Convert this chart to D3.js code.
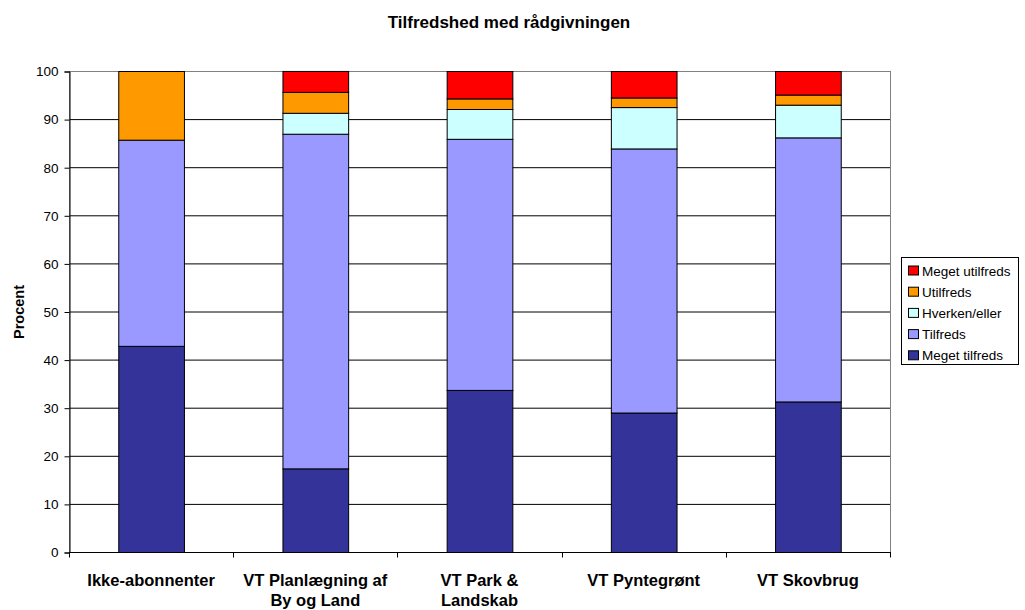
<!DOCTYPE html>
<html>
<head>
<meta charset="utf-8">
<script src="https://cdn.jsdelivr.net/npm/d3@7/dist/d3.min.js"></script>
<style>
  html, body { margin: 0; padding: 0; background: #fff; }
  svg { display: block; font-family: "Liberation Sans", Arial, sans-serif; }
</style>
</head>
<body>
<svg id="chart" width="1025" height="610"></svg>
<script>
// Satisfaction with advisory service, percentage per group
const categories = [
  ["Ikke-abonnenter"],
  ["VT Planlægning af", "By og Land"],
  ["VT Park &", "Landskab"],
  ["VT Pyntegrønt"],
  ["VT Skovbrug"]
];
const seriesNames = ["Meget tilfreds", "Tilfreds", "Hverken/eller", "Utilfreds", "Meget utilfreds"];
const seriesColors = ["#333399", "#9999FF", "#CCFFFF", "#FF9900", "#FF0000"];

const megetTilfreds  = [42.86, 17.39, 33.7, 29.0, 31.3];
const tilfreds       = [42.86, 69.57, 52.2, 54.9, 54.9];
const hverkenEller   = [0,      4.35,  6.2,  8.6,  6.8];
const utilfreds      = [14.28,  4.35,  2.2,  2.0,  2.1];
const megetUtilfreds = [0,      4.35,  5.7,  5.5,  4.9];

const yTicks = [0, 10, 20, 30, 40, 50, 60, 70, 80, 90, 100];

const seriesValues = [megetTilfreds, tilfreds, hverkenEller, utilfreds, megetUtilfreds];
const keys = categories.map((c, i) => i);
const rows = keys.map(i => {
  const r = { idx: i };
  seriesNames.forEach((s, k) => r[s] = seriesValues[k][i]);
  return r;
});

const svg = d3.select("#chart");
const plot = { left: 69, right: 890, top: 71, bottom: 552 };

const x = d3.scaleBand().domain(keys).range([plot.left, plot.right])
  .paddingInner(0.6).paddingOuter(0.3);
const xCat = d3.scaleBand().domain(keys).range([plot.left, plot.right]);
const y = d3.scaleLinear().domain([0, 100]).range([plot.bottom, plot.top]);

// Title
svg.append("text")
  .attr("x", 509).attr("y", 27.5)
  .attr("text-anchor", "middle")
  .attr("font-size", 17).attr("font-weight", "bold")
  .text("Tilfredshed med rådgivningen");

// Gridlines
svg.append("g").selectAll("line")
  .data(yTicks.filter(t => t > 0))
  .join("line")
  .attr("x1", plot.left).attr("x2", plot.right)
  .attr("y1", d => y(d) + 0.5).attr("y2", d => y(d) + 0.5)
  .attr("stroke", "#000").attr("stroke-width", 1);

// Plot area border (top/right)
svg.append("rect")
  .attr("x", plot.left + 0.5).attr("y", plot.top + 0.5)
  .attr("width", plot.right - plot.left).attr("height", plot.bottom - plot.top)
  .attr("fill", "none").attr("stroke", "#808080");

// Stacked bars
const stack = d3.stack().keys(seriesNames);
const stacked = stack(rows);
svg.append("g").selectAll("g")
  .data(stacked)
  .join("g")
  .attr("fill", (d, i) => seriesColors[i])
  .selectAll("rect")
  .data(d => d.filter(p => p[1] - p[0] > 0))
  .join("rect")
  .attr("x", d => x(d.data.idx) + 0.5)
  .attr("y", d => y(d[1]) + 0.5)
  .attr("width", x.bandwidth())
  .attr("height", d => y(d[0]) - y(d[1]))
  .attr("stroke", "#000").attr("stroke-width", 1);

// Y axis
const yAxis = d3.axisLeft(y).tickValues(yTicks).tickSize(5).tickPadding(6);
const gy = svg.append("g").attr("transform", `translate(${plot.left + 0.5},0.5)`).call(yAxis);
gy.select(".domain").attr("stroke", "#000");
gy.selectAll(".tick line").attr("stroke", "#000");
gy.selectAll(".tick text").attr("font-size", 13.5).attr("fill", "#000")
  .attr("font-family", "Liberation Sans, Arial, sans-serif");

// X axis with ticks between categories
const gx = svg.append("g").attr("transform", `translate(0,${plot.bottom + 0.5})`);
gx.append("line")
  .attr("x1", plot.left).attr("x2", plot.right + 1)
  .attr("stroke", "#000");
const boundaries = keys.map(k => xCat(k)).concat([plot.right]);
gx.selectAll("line.tk").data(boundaries).join("line").attr("class", "tk")
  .attr("x1", d => Math.round(d) + 0.5).attr("x2", d => Math.round(d) + 0.5)
  .attr("y1", 0).attr("y2", 5).attr("stroke", "#000");

const xl = svg.append("g").selectAll("text").data(keys).join("text")
  .attr("x", d => x(d) + x.bandwidth() / 2)
  .attr("y", 586)
  .attr("text-anchor", "middle")
  .attr("font-size", 16.5).attr("font-weight", "bold");
xl.selectAll("tspan").data(d => categories[d]).join("tspan")
  .attr("x", function () { return d3.select(this.parentNode).attr("x"); })
  .attr("dy", (d, i) => i === 0 ? 0 : 20)
  .text(d => d);

// Y axis title
svg.append("text")
  .attr("transform", "translate(24,312) rotate(-90)")
  .attr("text-anchor", "middle")
  .attr("font-size", 14.5).attr("font-weight", "bold")
  .text("Procent");

// Legend (top entry is the last series)
const lg = svg.append("g");
lg.append("rect")
  .attr("x", 901.5).attr("y", 257.5).attr("width", 117).attr("height", 107)
  .attr("fill", "#fff").attr("stroke", "#000");
const legendOrder = seriesNames.map((s, i) => i).reverse();
const li = lg.selectAll("g.item").data(legendOrder).join("g").attr("class", "item")
  .attr("transform", (d, i) => `translate(908,${270.5 + i * 21.2})`);
li.append("rect")
  .attr("x", 0.5).attr("y", -4.5).attr("width", 10).attr("height", 9)
  .attr("fill", d => seriesColors[d]).attr("stroke", "#000");
li.append("text")
  .attr("x", 14).attr("y", 5)
  .attr("font-size", 13.5)
  .text(d => seriesNames[d]);
</script>
</body>
</html>
